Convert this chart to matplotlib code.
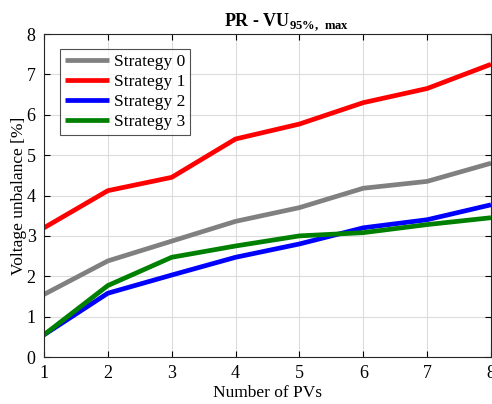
import matplotlib
matplotlib.use("Agg")
import matplotlib.pyplot as plt

plt.rcParams["font.family"] = ["Liberation Serif", "DejaVu Serif"]
plt.rcParams["mathtext.fontset"] = "custom"
plt.rcParams["mathtext.rm"] = "Liberation Serif"
plt.rcParams["mathtext.bf"] = "Liberation Serif:bold"

# Data
num_pvs = [1, 2, 3, 4, 5, 6, 7, 8]
strategy_0 = [1.55, 2.38, 2.87, 3.36, 3.70, 4.18, 4.35, 4.80]
strategy_1 = [3.20, 4.12, 4.45, 5.40, 5.77, 6.30, 6.65, 7.25]
strategy_2 = [0.55, 1.58, 2.03, 2.47, 2.80, 3.20, 3.40, 3.77]
strategy_3 = [0.55, 1.77, 2.47, 2.75, 3.00, 3.08, 3.28, 3.45]
labels = ["Strategy 0", "Strategy 1", "Strategy 2", "Strategy 3"]
colors = ["#808080", "#ff0000", "#0000ff", "#008000"]

fig = plt.figure(figsize=(4.92, 4.04), dpi=100)
ax = fig.add_axes([0.0894, 0.1163, 0.9085, 0.7995])

for ys, lab, col in zip([strategy_0, strategy_1, strategy_2, strategy_3], labels, colors):
    ax.plot(num_pvs, ys, color=col, linewidth=3.4, label=lab, solid_capstyle="butt")

ax.set_xlim(1, 8)
ax.set_ylim(0, 8)
ax.set_xticks(num_pvs)
ax.set_yticks(range(0, 9))
ax.grid(True, color="#dcdcdc", linewidth=0.8)
ax.set_axisbelow(True)
ax.tick_params(direction="in", top=True, right=True, labelsize=13, length=4, pad=6)
for sp in ax.spines.values():
    sp.set_linewidth(0.8)
    sp.set_color("#262626")

ax.set_xlabel("Number of PVs", fontsize=12.5, labelpad=2)
ax.set_ylabel("Voltage unbalance [%]", fontsize=12.5, labelpad=0)

fig.text(0.582, 0.945, r"PR - VU$_{\mathbf{95\%,\ max}}$", ha="center", va="center",
         fontsize=13, fontweight="bold")

leg = ax.legend(loc="upper left", bbox_to_anchor=(0.036, 0.954), fontsize=12.5,
                frameon=True, fancybox=False, edgecolor="#262626",
                handlelength=2.5, handletextpad=0.3, borderpad=0.3,
                labelspacing=0.22, borderaxespad=0)
leg.get_frame().set_linewidth(0.8)

fig.savefig("out.png", dpi=100)
